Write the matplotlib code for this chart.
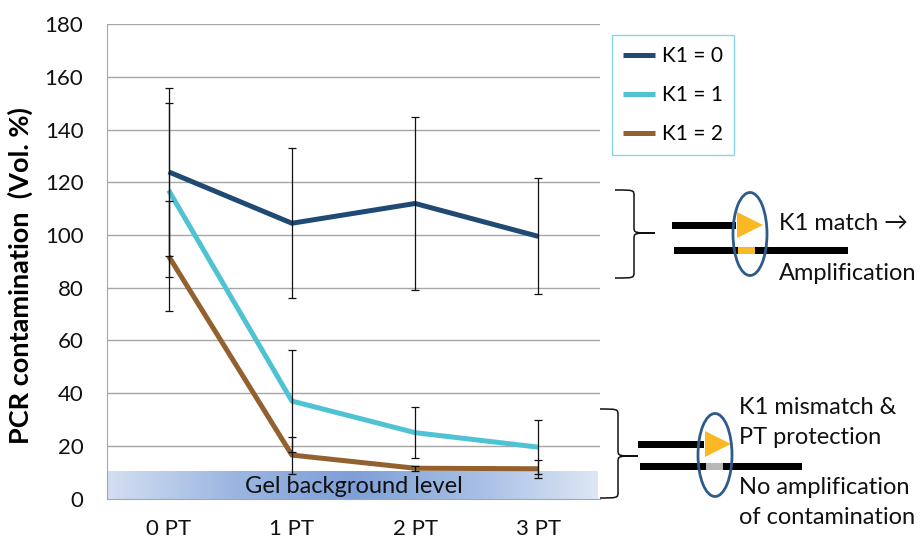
import numpy as np
import matplotlib
matplotlib.use("Agg")
import matplotlib.pyplot as plt
from matplotlib.path import Path
from matplotlib.patches import PathPatch, Ellipse, Polygon, Rectangle
from matplotlib.colors import LinearSegmentedColormap

plt.rcParams['font.family'] = ['Lato', 'DejaVu Sans']

categories = ['0 PT', '1 PT', '2 PT', '3 PT']
labels = ['K1 = 0', 'K1 = 1', 'K1 = 2']
k1_0 = [124, 104.5, 112, 99.5]
k1_0_err = [32, 28.5, 33, 22]
k1_1 = [117, 37, 25, 19.5]
k1_1_err = [33, 19.5, 9.8, 10.3]
k1_2 = [92, 16.5, 11.5, 11.3]
k1_2_err = [21, 7, 1, 3.5]
gel_level = 10.6
colors = ['#1f4a73', '#4fc3d3', '#93602f']

fig = plt.figure(figsize=(9.21, 5.41), dpi=100)
ax = fig.add_axes([0.1162, 0.0785, 0.5353, 0.8765])

x = np.arange(len(categories))
series = [(k1_0, k1_0_err), (k1_1, k1_1_err), (k1_2, k1_2_err)]
for (vals, err), lab, c in zip(series, labels, colors):
    ax.plot(x, vals, color=c, lw=3.6, label=lab, zorder=3,
            solid_capstyle='butt')
for vals, err in series:
    ax.errorbar(x, vals, yerr=err, fmt='none', ecolor='#111111',
                elinewidth=0.9, capsize=3, capthick=0.9, zorder=4)

# gel background band
grad = LinearSegmentedColormap.from_list('gel', ['#d3dff1', '#9db7e2', '#7e9fd7', '#a6bee4', '#dde6f4'])
ax.imshow(np.linspace(0, 1, 256)[None, :], cmap=grad, aspect='auto',
          extent=[-0.5, 3.476, 0, gel_level], zorder=2)
ax.text(1.5, gel_level / 2 - 0.6, 'Gel background level', ha='center',
        va='center', fontsize=17, color='#111111', zorder=5)

ax.set_xlim(-0.5, 3.5)
ax.set_ylim(0, 180)
ax.set_yticks(range(0, 181, 20))
ax.set_xticks(x)
ax.set_xticklabels(categories)
ax.tick_params(axis='both', length=0, labelsize=16, colors='#111111')
ax.tick_params(axis='x', pad=15)
ax.tick_params(axis='y', pad=17)
ax.yaxis.grid(True, color='#a6a6a6', lw=1)
ax.set_axisbelow(True)
for s in ['top', 'right']:
    ax.spines[s].set_visible(False)
for s in ['left', 'bottom']:
    ax.spines[s].set_color('#a6a6a6')
ax.set_ylabel('PCR contamination  (Vol. %)', fontsize=19.5,
              fontweight='bold')
ax.yaxis.set_label_coords(-0.15, 0.47)

leg = ax.legend(loc='upper left', bbox_to_anchor=(612 / 921, 1 - 35 / 541),
                bbox_transform=fig.transFigure, fontsize=15, frameon=True,
                fancybox=False, handlelength=1.5, handletextpad=0.35,
                labelspacing=0.9, borderpad=0.55, borderaxespad=0)
leg.get_frame().set_edgecolor('#6ccadb')
leg.get_frame().set_linewidth(1.0)

# schematic overlay in pixel coordinates
ov = fig.add_axes([0, 0, 1, 1], zorder=-1)
ov.set_xlim(0, 921)
ov.set_ylim(541, 0)
ov.axis('off')
ov.patch.set_alpha(0)


def brace(x0, xv, xt, yt, ym, yb):
    r = 6
    verts = [(x0, yt), (xv, yt), (xv, yt), (xv, yt + r),
             (xv, ym - r), (xv, ym), (xv, ym), (xt, ym),
             (xv, ym), (xv, ym), (xv, ym + r),
             (xv, yb - r), (xv, yb), (xv, yb), (x0, yb)]
    codes = [Path.MOVETO, Path.CURVE4, Path.CURVE4, Path.CURVE4,
             Path.LINETO, Path.CURVE4, Path.CURVE4, Path.CURVE4,
             Path.CURVE4, Path.CURVE4, Path.CURVE4,
             Path.LINETO, Path.CURVE4, Path.CURVE4, Path.CURVE4]
    ov.add_patch(PathPatch(Path(verts, codes), fill=False, lw=1.1, color='#111111'))


def schematic(xl, xr_top, yc_top, yc_bot, xr_bot, mark_color, ex, ey):
    ov.add_patch(Rectangle((xl, yc_top - 3.5), xr_top - xl, 7, color='black', lw=0))
    ov.add_patch(Rectangle((xl + 2, yc_bot - 3.5), xr_bot - xl - 2, 7, color='black', lw=0))
    ov.add_patch(Rectangle((xr_top + 2, yc_bot - 3.5), 17, 7, color=mark_color, lw=0))
    ov.add_patch(Polygon([(xr_top + 1, yc_top - 13), (xr_top + 1, yc_top + 13),
                          (xr_top + 27, yc_top)], closed=True, color='#fbb825', lw=0))
    ov.add_patch(Ellipse((ex, ey), 34, 83, fill=False, ec='#2e5b8a', lw=2))


brace(615, 634, 655, 190, 233, 278)
brace(598, 618, 638, 409, 456, 498)
schematic(672, 736, 225, 250, 848, '#fbb825', 750, 234)
schematic(638, 704, 444, 466, 802, '#b8b8b8', 715, 455)

tk = dict(fontsize=17, color='#111111', va='center', ha='left')
ov.text(779, 224, 'K1 match \u2192', **tk)
ov.text(779, 274, 'Amplification', **tk)
ov.text(739, 408, 'K1 mismatch &', **tk)
ov.text(739, 437, 'PT protection', **tk)
ov.text(739, 488, 'No amplification', **tk)
ov.text(739, 517, 'of contamination', **tk)

fig.savefig('out.png', dpi=100)
